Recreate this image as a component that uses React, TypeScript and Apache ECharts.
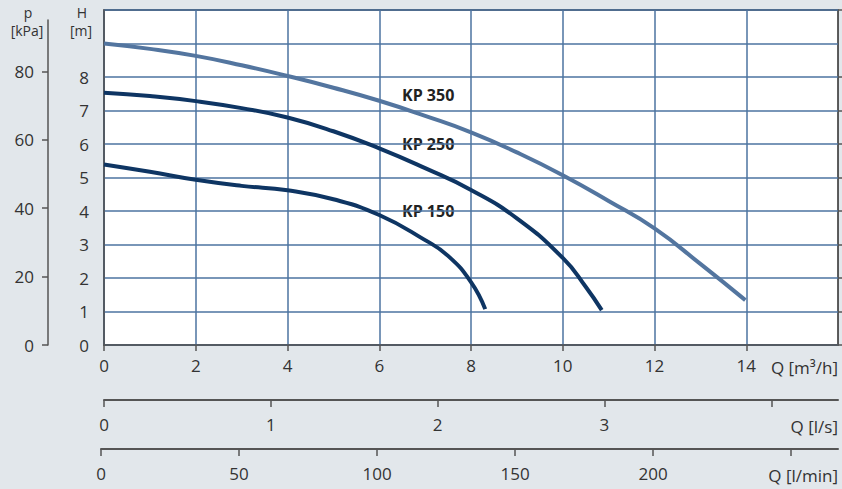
import React, { useEffect, useRef } from "react";
import * as echarts from "echarts";

// Flow Q [m³/h] and head H [m]
const kp350Q = [0, 1, 2, 3, 4, 5, 6, 7, 8, 9, 10, 11, 12, 13, 13.98];
const kp350H = [9.0, 8.84, 8.63, 8.35, 8.03, 7.68, 7.29, 6.84, 6.35, 5.75, 5.07, 4.3, 3.48, 2.42, 1.34];
const kp250Q = [0, 1, 2, 3, 4, 5, 6, 7, 8, 9, 10, 10.5, 10.85];
const kp250H = [7.53, 7.43, 7.28, 7.07, 6.79, 6.38, 5.87, 5.28, 4.63, 3.78, 2.6, 1.74, 1.04];
const kp150Q = [0, 1, 2, 3, 4, 5, 6, 7, 7.5, 8, 8.31];
const kp150H = [5.39, 5.17, 4.93, 4.75, 4.62, 4.35, 3.88, 3.13, 2.66, 1.88, 1.07];

const seriesNames = ["KP 350", "KP 250", "KP 150"];

const qM3hTicks = [0, 2, 4, 6, 8, 10, 12, 14];
const hTicks = [0, 1, 2, 3, 4, 5, 6, 7, 8, 10];
const hLabels = [0, 1, 2, 3, 4, 5, 6, 7, 8];
const pTicks = [0, 20, 40, 60, 80];
const qLsTicks = [0, 1, 2, 3, 4];
const qLsLabels = [0, 1, 2, 3];
const qLminTicks = [0, 50, 100, 150, 200, 250];
const qLminLabels = [0, 50, 100, 150, 200];

const FONT = "'Open Sans', 'Noto Sans', sans-serif";
const TXT = "#333333";
const AX = "#555555";
const GRIDC = "#4c73a0";

const zip = (a: number[], b: number[]) => a.map((v, i) => [v, b[i]]);

const hideExcept = (keep: number[]) => (v: number) =>
  keep.some((k) => Math.abs(k - v) < 1e-6) ? String(v) : "";

export default function App() {
  const ref = useRef<HTMLDivElement>(null);
  useEffect(() => {
    if (!ref.current) return;
    const chart = echarts.init(ref.current, undefined, { renderer: "svg" });
    const label = { fontFamily: FONT, fontSize: 17, color: TXT };
    const hiddenX = (gridIndex: number) => ({ type: "value", gridIndex, show: false, min: 0, max: 1 });
    const hiddenY = (gridIndex: number) => ({ type: "value", gridIndex, show: false, min: 0, max: 1 });
    const unit = (text: string, x: number, y: number) => ({
      type: "text", x, y,
      style: { text, font: `14px ${FONT}`, lineHeight: 14, fill: TXT, align: "center", verticalAlign: "middle" },
    });
    chart.setOption({
      animation: false,
      backgroundColor: "#e2e7eb",
      grid: [
        { left: 104, right: 4, top: 10, bottom: 144, show: true, backgroundColor: "#ffffff", borderColor: "#2a2a2a", borderWidth: 1.5 },
        { left: 48, width: 1, top: 20, bottom: 144 },
        { left: 104, right: 4, top: 398, bottom: 89 },
        { left: 101, right: 4, top: 447, bottom: 40 },
      ],
      xAxis: [
        {
          type: "value", gridIndex: 0, min: 0, max: 16, interval: 2,
          axisLine: { show: true, lineStyle: { color: AX, width: 1.5 } },
          axisTick: { show: true, length: 6, lineStyle: { color: AX, width: 1.5 }, customValues: qM3hTicks },
          axisLabel: { ...label, margin: 12, customValues: qM3hTicks, formatter: hideExcept(qM3hTicks) },
          splitLine: { show: true, lineStyle: { color: GRIDC, width: 1.5 } },
        },
        hiddenX(1),
        {
          type: "value", gridIndex: 2, min: 0, max: 4.4, interval: 1,
          axisLine: { show: true, lineStyle: { color: AX, width: 2 } },
          axisTick: { show: true, length: 7, lineStyle: { color: AX, width: 1.5 }, customValues: qLsTicks },
          axisLabel: { ...label, margin: 16, customValues: qLsLabels, formatter: hideExcept(qLsLabels) },
          splitLine: { show: false },
        },
        {
          type: "value", gridIndex: 3, min: 0, max: 267, interval: 50,
          axisLine: { show: true, lineStyle: { color: AX, width: 2 } },
          axisTick: { show: true, length: 7, lineStyle: { color: AX, width: 1.5 }, customValues: qLminTicks },
          axisLabel: { ...label, margin: 16, customValues: qLminLabels, formatter: hideExcept(qLminLabels) },
          splitLine: { show: false },
        },
      ],
      yAxis: [
        {
          type: "value", gridIndex: 0, min: 0, max: 10, interval: 1,
          axisLine: { show: true, lineStyle: { color: AX, width: 1.5 } },
          axisTick: { show: false },
          axisLabel: { ...label, margin: 15, customValues: hLabels, formatter: hideExcept(hLabels) },
          splitLine: { show: true, lineStyle: { color: GRIDC, width: 1.5 } },
        },
        {
          type: "value", gridIndex: 1, min: 0, max: 95, interval: 20,
          axisLine: { show: true, lineStyle: { color: AX, width: 1.5 } },
          axisTick: { show: true, length: 6, lineStyle: { color: AX, width: 1.5 }, customValues: pTicks },
          axisLabel: { ...label, margin: 14, customValues: pTicks, formatter: hideExcept(pTicks) },
          splitLine: { show: false },
        },
        hiddenY(2),
        hiddenY(3),
        {
          type: "value", gridIndex: 0, min: 0, max: 10, interval: 1,
          axisLine: { show: false },
          axisTick: { show: true, length: 7, lineStyle: { color: AX, width: 1.5 }, customValues: hTicks },
          axisLabel: { show: false },
          splitLine: { show: false },
        },
      ],
      series: [
        { name: seriesNames[0], data: zip(kp350Q, kp350H), color: "#53759f" },
        { name: seriesNames[1], data: zip(kp250Q, kp250H), color: "#0e3563" },
        { name: seriesNames[2], data: zip(kp150Q, kp150H), color: "#0e3563" },
      ].map((s) => ({
        type: "line", xAxisIndex: 0, yAxisIndex: 0, name: s.name, data: s.data,
        smooth: 0.5, showSymbol: false, symbol: "none",
        lineStyle: { color: s.color, width: 4, cap: "butt" }, itemStyle: { color: s.color },
      })),
      graphic: [
        { type: "text", left: 402, top: 87, style: { text: seriesNames[0], font: `bold 16px ${FONT}`, fill: "#222" } },
        { type: "text", left: 402, top: 136, style: { text: seriesNames[1], font: `bold 16px ${FONT}`, fill: "#222" } },
        { type: "text", left: 402, top: 203, style: { text: seriesNames[2], font: `bold 16px ${FONT}`, fill: "#222" } },
        unit("p", 28, 12),
        unit("[kPa]", 27, 30),
        unit("H", 82, 12),
        unit("[m]", 81, 30),
        { type: "text", x: 838, y: 367, style: { text: "Q [m³/h]", font: `17px ${FONT}`, fill: TXT, align: "right", verticalAlign: "middle" } },
        { type: "text", x: 838, y: 426, style: { text: "Q [l/s]", font: `17px ${FONT}`, fill: TXT, align: "right", verticalAlign: "middle" } },
        { type: "text", x: 838, y: 475, style: { text: "Q [l/min]", font: `17px ${FONT}`, fill: TXT, align: "right", verticalAlign: "middle" } },
      ],
    });
    return () => chart.dispose();
  }, []);
  return <div ref={ref} style={{ position: "fixed", left: 0, top: 0, width: 842, height: 489 }} />;
}
